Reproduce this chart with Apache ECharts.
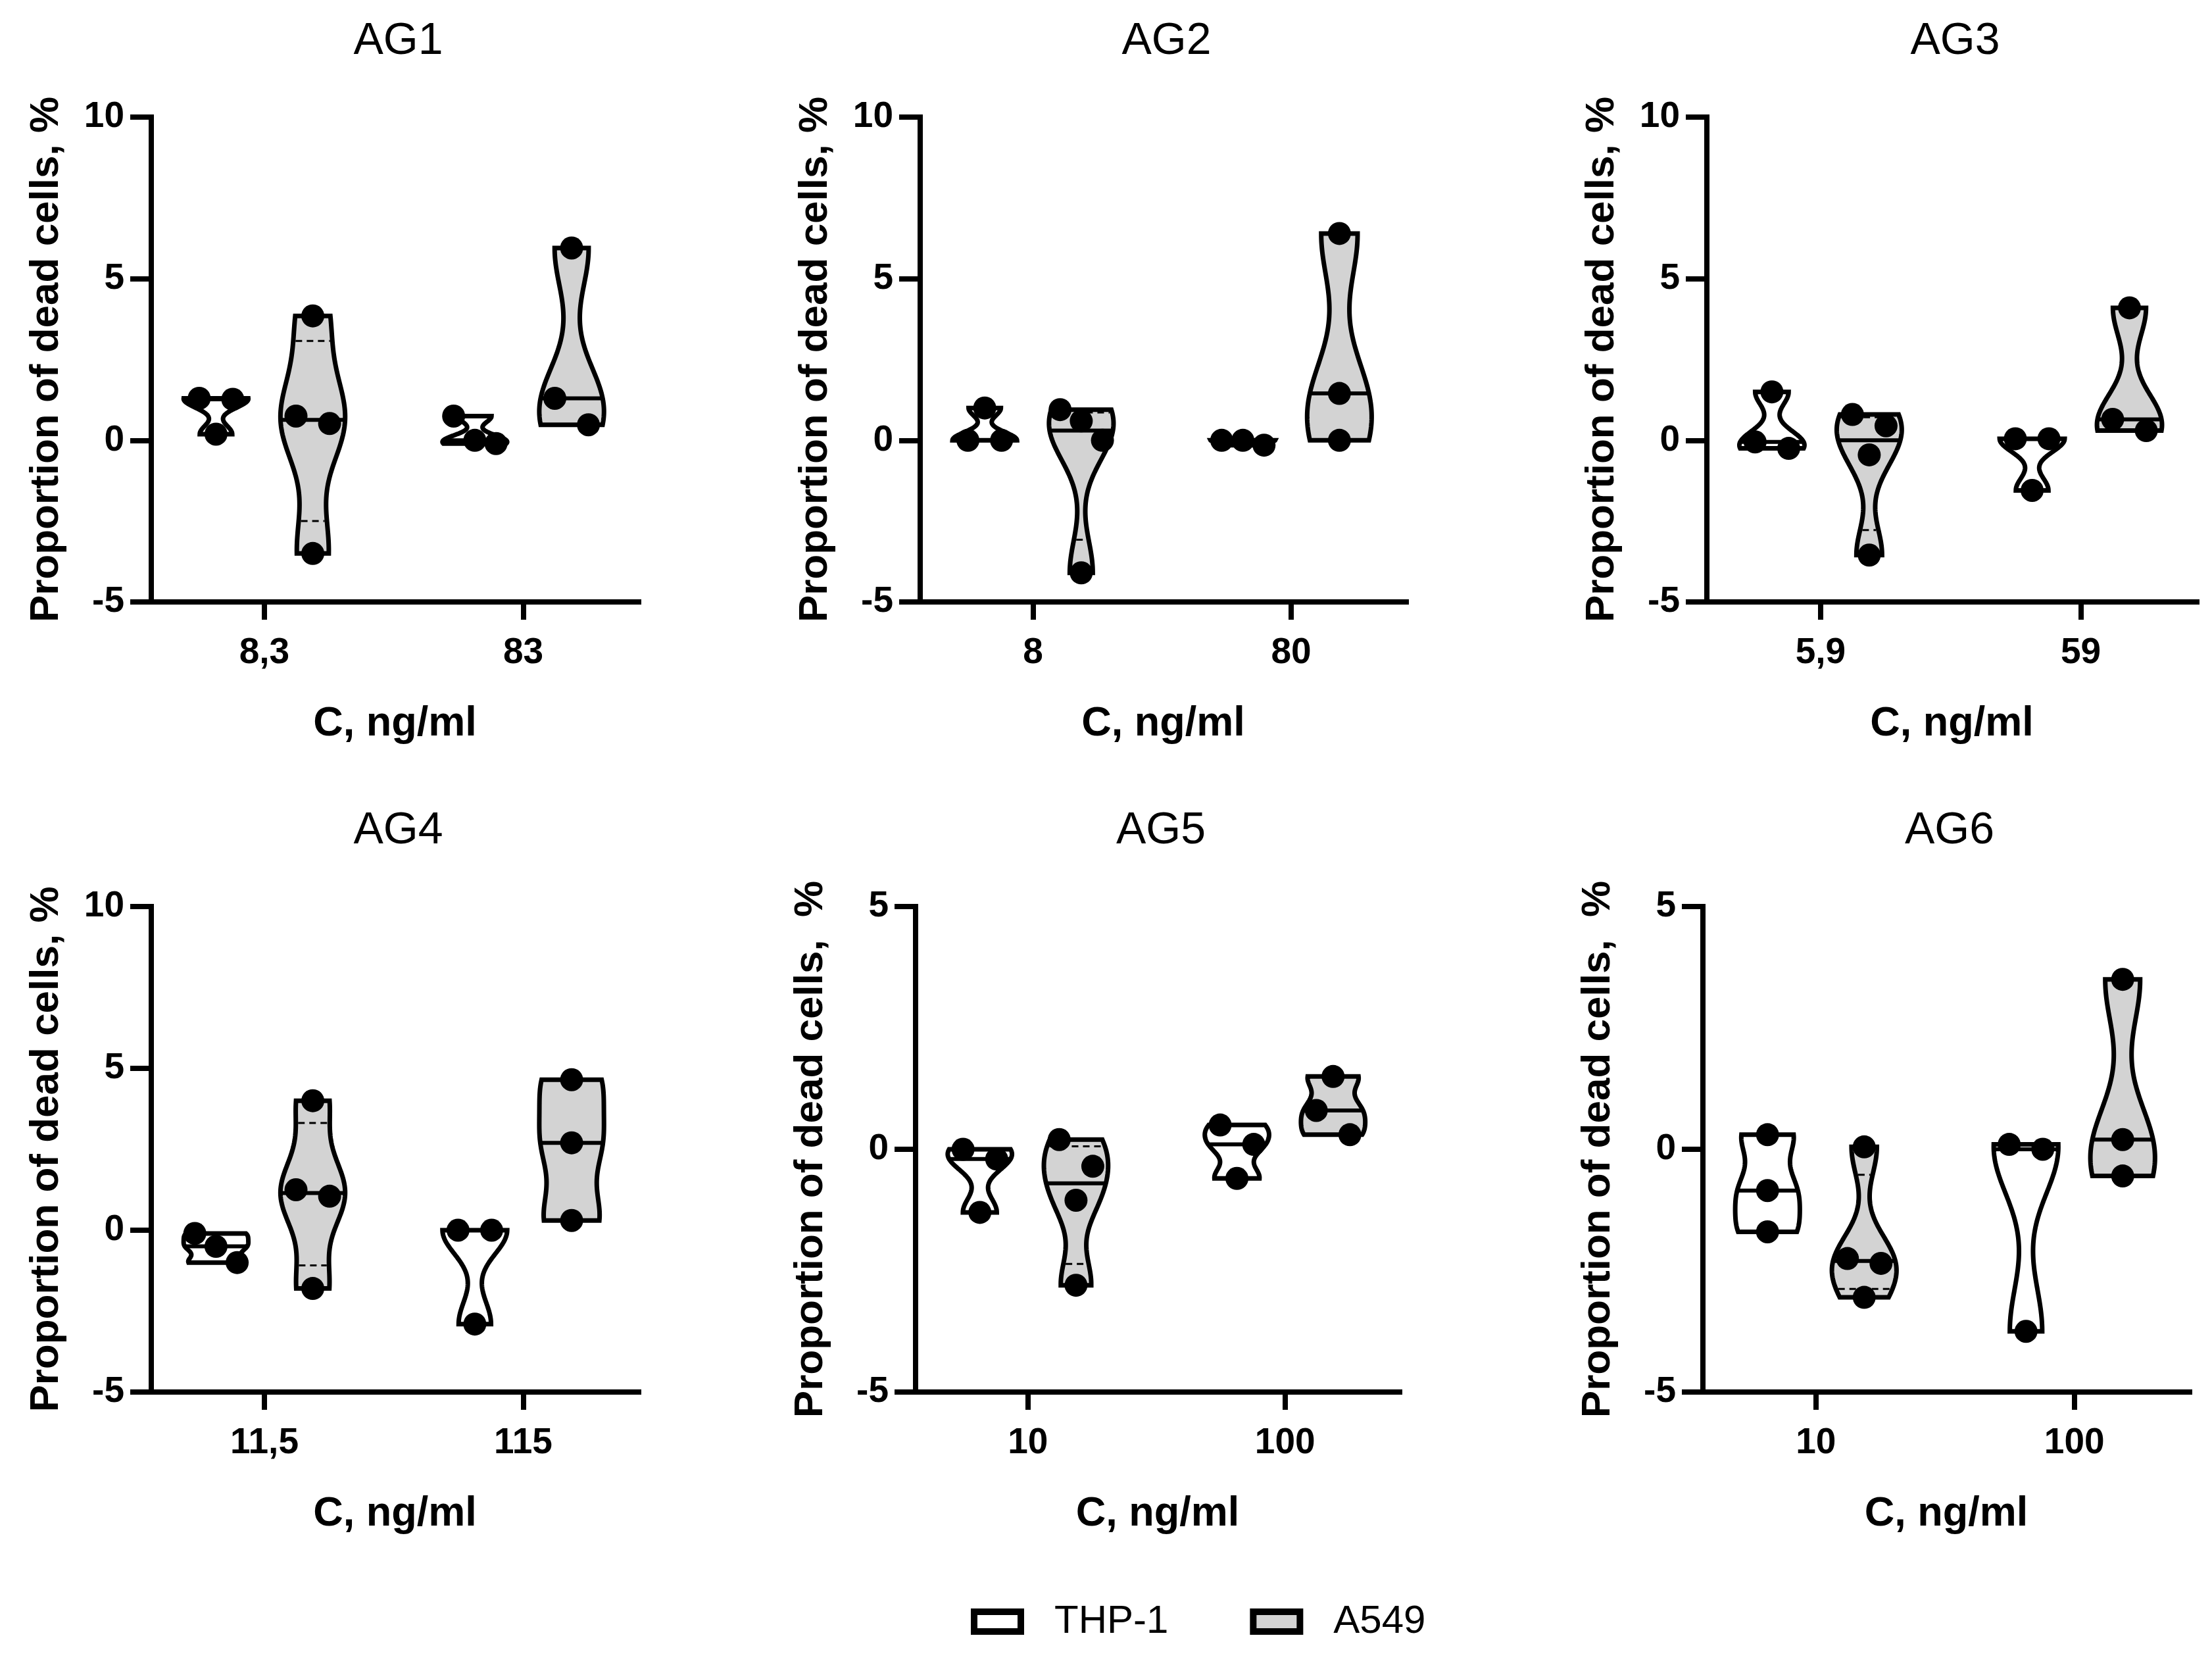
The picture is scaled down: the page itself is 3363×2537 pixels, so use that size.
<!DOCTYPE html>
<html>
<head>
<meta charset="utf-8">
<script src="https://cdn.jsdelivr.net/npm/echarts@6/dist/echarts.min.js"></script>
<style>
html,body{margin:0;padding:0;background:#fff;}
#chart{width:3363px;height:2537px;}
</style>
</head>
<body>
<div id="chart"></div>
<script>
// ---------------- data ----------------
const panelTitles = ['AG1', 'AG2', 'AG3', 'AG4', 'AG5', 'AG6'];
const doseLabels = [['8,3', '83'], ['8', '80'], ['5,9', '59'], ['11,5', '115'], ['10', '100'], ['10', '100']];
const yMinValues = [-5, -5, -5, -5, -5, -5];
const yMaxValues = [10, 10, 10, 10, 5, 5];
const yStep = 5;
const groupNames = ['THP-1', 'A549'];
const yAxisNames = ['Proportion of dead cells, %', 'Proportion of dead cells, %', 'Proportion of dead cells, %',
                    'Proportion of dead cells, %', 'Proportion of dead cells,  %', 'Proportion of dead cells,  %'];
const xAxisName = 'C, ng/ml';
// values per panel -> per dose -> replicate values
const thp1Values = [
  [[1.3, 1.27, 0.19], [0.75, 0.0, -0.1]],
  [[1.0, 0.0, 0.0], [0.0, 0.0, -0.15]],
  [[1.5, -0.05, -0.25], [0.05, 0.05, -1.55]],
  [[-0.1, -0.5, -1.0], [0.0, 0.0, -2.9]],
  [[0.0, -0.2, -1.3], [0.5, 0.1, -0.6]],
  [[0.3, -0.85, -1.7], [0.1, 0.0, -3.75]]
];
const a549Values = [
  [[3.85, 0.75, 0.52, -3.5], [5.95, 1.3, 0.48]],
  [[0.95, 0.6, 0.0, -4.1], [6.4, 1.45, 0.0]],
  [[0.8, 0.45, -0.45, -3.55], [4.1, 0.65, 0.3]],
  [[4.0, 1.25, 1.05, -1.8], [4.65, 2.7, 0.3]],
  [[0.2, -0.35, -1.05, -2.8], [1.5, 0.8, 0.3]],
  [[0.05, -2.25, -2.35, -3.05], [3.5, 0.2, -0.55]]
];

// ---------------- layout / style ----------------
const FONT = '"Liberation Sans", Arial, Helvetica, sans-serif';
const gridBoxes = [
  {left: 230, top: 178, width: 741, height: 737},
  {left: 1399, top: 178, width: 739, height: 737},
  {left: 2595, top: 178, width: 745, height: 737},
  {left: 230, top: 1378, width: 741, height: 738},
  {left: 1392, top: 1378, width: 736, height: 738},
  {left: 2589, top: 1378, width: 740, height: 738}
];
const X_MIN = -0.437, X_MAX = 1.446;
const GROUP_OFFSET = 0.187;
const HALF_WIDTH = 0.125;
const BW_FACTOR = 0.45;
const DOT = 35;
const AXIS_W = 8;
const VIOLIN_W = 7;
const MEDIAN_W = 6;
const FILLS = ['#ffffff', '#d3d3d3'];

function quantile(sortedAsc, p) {
  const n = sortedAsc.length;
  const r = p * (n + 1);
  if (r <= 1) return sortedAsc[0];
  if (r >= n) return sortedAsc[n - 1];
  const lo = Math.floor(r);
  const f = r - lo;
  return sortedAsc[lo - 1] + f * (sortedAsc[lo] - sortedAsc[lo - 1]);
}
function median(sortedAsc) {
  const n = sortedAsc.length;
  return n % 2 ? sortedAsc[(n - 1) / 2] : (sortedAsc[n / 2 - 1] + sortedAsc[n / 2]) / 2;
}

function makeRenderer(pi, gi) {
  const source = gi === 0 ? thp1Values : a549Values;
  return function (params, api) {
    const ci = api.value(0);
    const vals = source[pi][ci].slice().sort((a, b) => b - a);
    const asc = vals.slice().reverse();
    const n = vals.length;
    const offset = gi === 0 ? -GROUP_OFFSET : GROUP_OFFSET;
    const cx = api.coord([ci + offset, 0])[0];
    const unitPx = api.size([1, 0])[0];
    const halfW = HALF_WIDTH * unitPx;
    const mean = vals.reduce((a, b) => a + b, 0) / n;
    const sd = Math.sqrt(vals.reduce((a, b) => a + (b - mean) * (b - mean), 0) / (n - 1));
    const h = Math.max(sd * BW_FACTOR, 0.01);
    const dens = y => vals.reduce((a, v) => a + Math.exp(-0.5 * ((y - v) / h) * ((y - v) / h)), 0);
    const vmax = vals[0], vmin = vals[n - 1];
    const N = 90;
    const ys = [], ds = [];
    for (let i = 0; i <= N; i++) {
      const y = vmax - (vmax - vmin) * i / N;
      ys.push(y); ds.push(dens(y));
    }
    const dmax = Math.max.apply(null, ds.concat(vals.map(dens)));
    const py = v => api.coord([0, v])[1];
    const leftPts = ys.map((y, i) => [cx - ds[i] / dmax * halfW, py(y)]);
    const rightPts = ys.map((y, i) => [cx + ds[i] / dmax * halfW, py(y)]).reverse();
    const children = [];
    children.push({
      type: 'polygon',
      shape: {points: leftPts.concat(rightPts)},
      style: {fill: FILLS[gi], stroke: '#000', lineWidth: VIOLIN_W, lineJoin: 'miter'}
    });
    // quartiles (dashed) and median (solid)
    const q1 = quantile(asc, 0.25), q3 = quantile(asc, 0.75), med = median(asc);
    [q1, q3].forEach(q => {
      const w = dens(q) / dmax * halfW - VIOLIN_W / 2;
      if (w > 2) children.push({
        type: 'line',
        shape: {x1: cx - w, y1: py(q), x2: cx + w, y2: py(q)},
        style: {stroke: '#000', lineWidth: 3, lineDash: [10, 7]}
      });
    });
    const wm = dens(med) / dmax * halfW;
    children.push({
      type: 'line',
      shape: {x1: cx - wm, y1: py(med), x2: cx + wm, y2: py(med)},
      style: {stroke: '#000', lineWidth: MEDIAN_W}
    });
    // dots, spread horizontally where they would overlap
    const pys = vals.map(py);
    const clusters = [];
    let cur = [0];
    for (let i = 1; i < n; i++) {
      if (Math.abs(pys[i] - pys[i - 1]) < DOT * 1.2) cur.push(i);
      else { clusters.push(cur); cur = [i]; }
    }
    clusters.push(cur);
    clusters.forEach(cl => {
      const k = cl.length;
      const spacing = k === 2 ? DOT * 1.46 : DOT * 0.92;
      cl.forEach((idx, j) => {
        const dx = k === 1 ? 0 : (j - (k - 1) / 2) * spacing;
        children.push({
          type: 'circle',
          shape: {cx: cx + dx, cy: pys[idx], r: DOT / 2},
          style: {fill: '#000'}
        });
      });
    });
    return {type: 'group', children: children};
  };
}

const grids = [], xAxes = [], yAxes = [], titles = [], series = [];
panelTitles.forEach((t, pi) => {
  const g = gridBoxes[pi];
  grids.push({left: g.left, top: g.top, width: g.width, height: g.height, containLabel: false});
  titles.push({
    text: t, left: g.left + g.width / 2, top: g.top - 154, textAlign: 'center',
    textStyle: {fontSize: 68, fontWeight: 'normal', fontFamily: FONT, color: '#000'}
  });
  xAxes.push({
    type: 'value', gridIndex: pi, min: X_MIN, max: X_MAX,
    name: xAxisName, nameLocation: 'middle', nameGap: 154,
    nameTextStyle: {fontSize: 63, fontWeight: 'bold', fontFamily: FONT, color: '#000'},
    axisLine: {show: true, onZero: false, lineStyle: {color: '#000', width: AXIS_W, cap: 'square'}},
    axisTick: {show: true, length: 27, customValues: [0, 1], lineStyle: {color: '#000', width: AXIS_W}},
    axisLabel: {
      show: true, customValues: [0, 1], margin: 50,
      fontSize: 55, fontWeight: 'bold', fontFamily: FONT, color: '#000',
      formatter: v => doseLabels[pi][Math.round(v)]
    },
    splitLine: {show: false}
  });
  yAxes.push({
    type: 'value', gridIndex: pi, min: yMinValues[pi], max: yMaxValues[pi], interval: yStep,
    name: yAxisNames[pi], nameLocation: 'middle', nameGap: 128,
    nameTextStyle: {fontSize: 62, fontWeight: 'bold', fontFamily: FONT, color: '#000'},
    axisLine: {show: true, onZero: false, lineStyle: {color: '#000', width: AXIS_W, cap: 'square'}},
    axisTick: {show: true, length: 32, lineStyle: {color: '#000', width: AXIS_W}},
    axisLabel: {show: true, margin: 41, fontSize: 55, fontWeight: 'bold', fontFamily: FONT, color: '#000'},
    splitLine: {show: false}
  });
  groupNames.forEach((gname, gi) => {
    series.push({
      type: 'custom', name: gname, xAxisIndex: pi, yAxisIndex: pi,
      data: doseLabels[pi].map((d, i) => [i]),
      encode: {x: 0},
      itemStyle: {color: FILLS[gi], borderColor: '#000', borderWidth: 10},
      renderItem: makeRenderer(pi, gi),
      clip: false
    });
  });
});

const chart = echarts.init(document.getElementById('chart'), null, {renderer: 'canvas', devicePixelRatio: 1});
chart.setOption({
  animation: false,
  backgroundColor: '#fff',
  textStyle: {fontFamily: FONT},
  title: titles,
  grid: grids,
  xAxis: xAxes,
  yAxis: yAxes,
  legend: {
    left: 1471, top: 2430, orient: 'horizontal',
    itemWidth: 71, itemHeight: 30, itemGap: 124, icon: 'rect', selectedMode: false,
    data: [
      {name: 'THP-1', itemStyle: {color: FILLS[0], borderColor: '#000', borderWidth: 10}},
      {name: 'A549', itemStyle: {color: FILLS[1], borderColor: '#000', borderWidth: 10}}
    ],
    textStyle: {fontSize: 60, fontFamily: FONT, color: '#000', padding: [0, 0, 0, 46]}
  },
  series: series
});
</script>
</body>
</html>
